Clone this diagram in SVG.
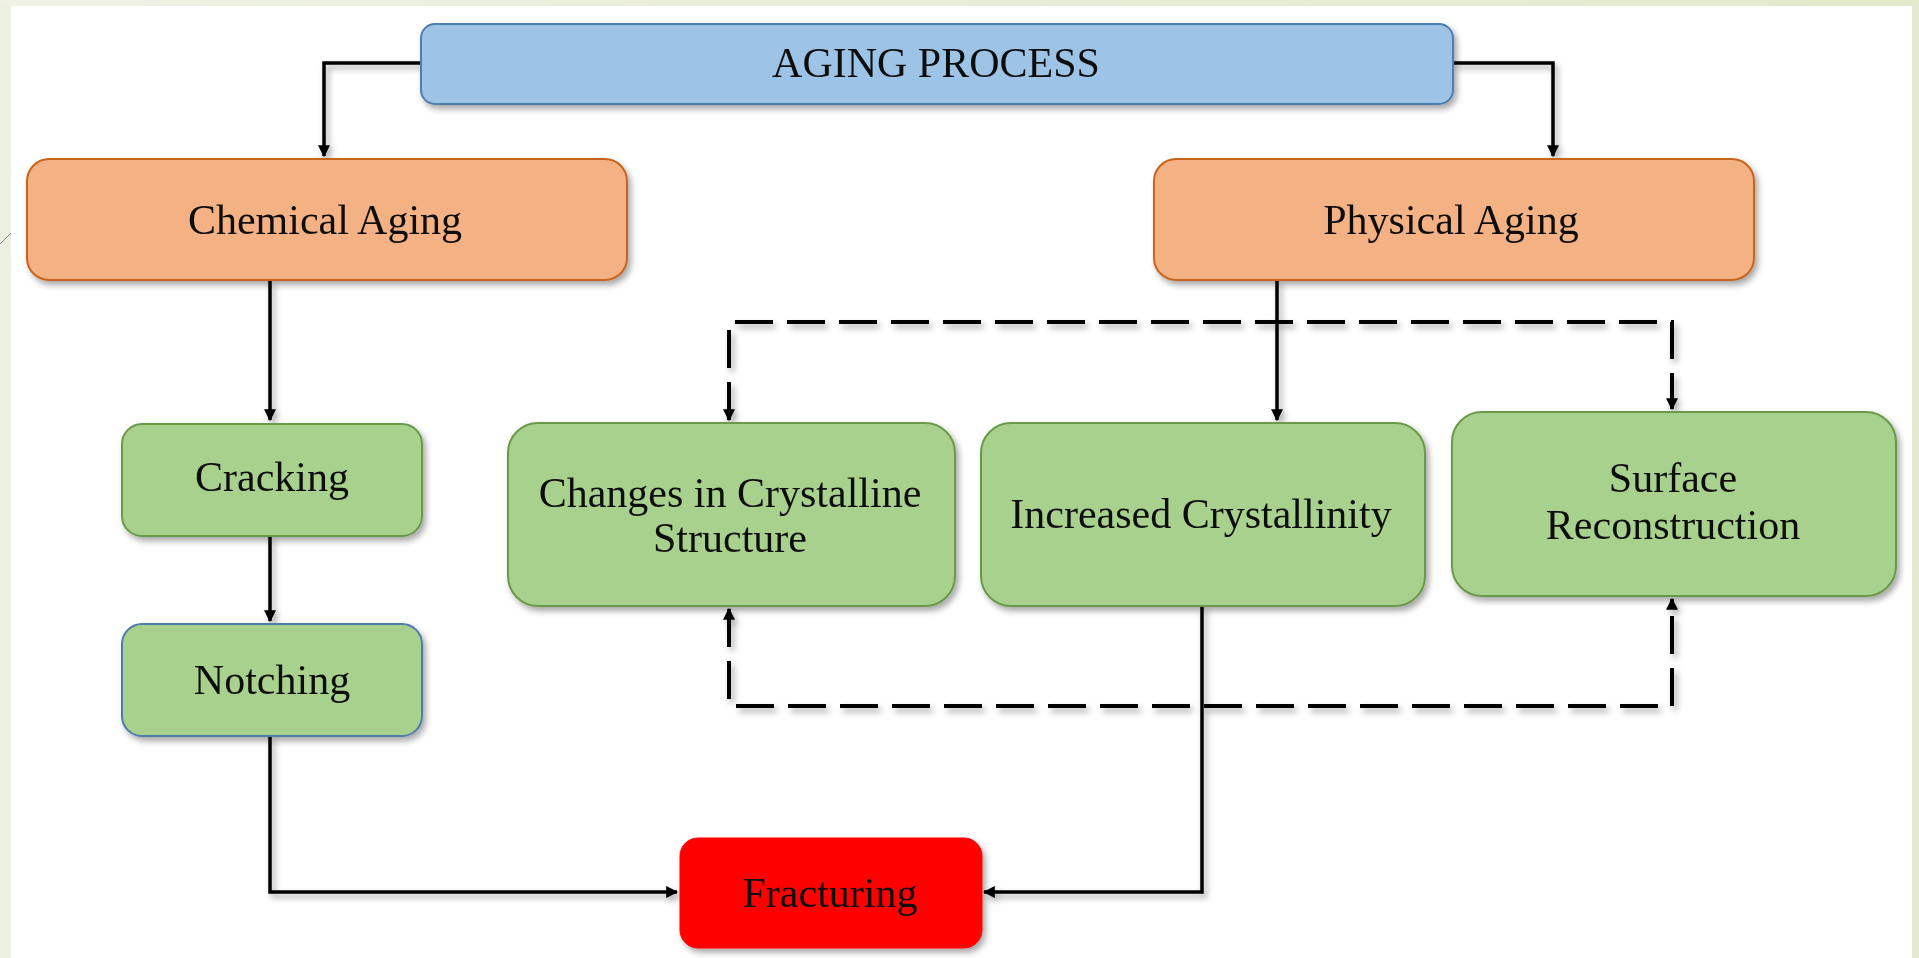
<svg xmlns="http://www.w3.org/2000/svg" width="1919" height="958" viewBox="0 0 1919 958">
<defs>
<linearGradient id="topg" x1="0" y1="0" x2="1" y2="0">
<stop offset="0" stop-color="#EEF1E4"/><stop offset="1" stop-color="#E2EACB"/>
</linearGradient>
<filter id="sh" x="-10%" y="-10%" width="125%" height="135%">
<feDropShadow dx="3" dy="4" stdDeviation="3" flood-color="#000" flood-opacity="0.35"/>
</filter>
<marker id="ah" viewBox="0 0 10 10" refX="9" refY="5" markerWidth="12" markerHeight="12" markerUnits="userSpaceOnUse" orient="auto-start-reverse">
<path d="M0,0 L10,5 L0,10 z" fill="#000"/>
</marker>
<style>
.t{font-family:"Liberation Serif","Times New Roman",serif;font-size:42px;fill:#111;text-anchor:middle}
.blue{fill:#9DC3E6;stroke:#4F7DAD;stroke-width:2}
.orange{fill:#F4B183;stroke:#C8651E;stroke-width:2}
.green{fill:#A9D18E;stroke:#6A9A4A;stroke-width:2}
.red{fill:#FF0000;stroke:#FF0000;stroke-width:1}
.c{fill:none;stroke:#000;stroke-width:3.5}
.d{fill:none;stroke:#000;stroke-width:4;stroke-dasharray:38 14}
</style>
</defs>
<rect x="0" y="0" width="1919" height="958" fill="#ECF0E2"/>
<rect x="0" y="0" width="1919" height="6" fill="url(#topg)"/>
<rect x="1912" y="0" width="7" height="958" fill="#E3EACF"/>
<rect x="11" y="6" width="1901" height="952" fill="#FFFFFF"/>
<line x1="0" y1="244" x2="11" y2="233" stroke="#888" stroke-width="1"/>

<g id="connectors" filter="url(#sh)">
<path class="c" d="M421,63 H324 V156" marker-end="url(#ah)"/>
<path class="c" d="M1453,63 H1553 V156" marker-end="url(#ah)"/>
<path class="c" d="M270,280 V420" marker-end="url(#ah)"/>
<path class="c" d="M270,536 V621" marker-end="url(#ah)"/>
<path class="c" d="M270,736 V892 H677" marker-end="url(#ah)"/>
<path class="c" d="M1277,280 V420" marker-end="url(#ah)"/>
<path class="c" d="M1202,606 V892 H984" marker-end="url(#ah)"/>
<path class="d" d="M729,420 V322 H1672 V409" marker-start="url(#ah)" marker-end="url(#ah)"/>
<path class="d" d="M729,609 V706 H1672 V599" marker-start="url(#ah)" marker-end="url(#ah)"/>
</g>

<g id="aging-process" filter="url(#sh)">
<rect class="blue" x="421" y="24" width="1032" height="80" rx="14"/>
<text class="t" x="936" y="77">AGING PROCESS</text>
</g>
<g id="chemical-aging" filter="url(#sh)">
<rect class="orange" x="27" y="159" width="600" height="121" rx="22"/>
<text class="t" x="325" y="234">Chemical Aging</text>
</g>
<g id="physical-aging" filter="url(#sh)">
<rect class="orange" x="1154" y="159" width="600" height="121" rx="22"/>
<text class="t" x="1451" y="234">Physical Aging</text>
</g>
<g id="cracking" filter="url(#sh)">
<rect class="green" x="122" y="424" width="300" height="112" rx="20"/>
<text class="t" x="272" y="491">Cracking</text>
</g>
<g id="notching" filter="url(#sh)">
<rect x="122" y="624" width="300" height="112" rx="20" fill="#A9D18E" stroke="#4F7BAA" stroke-width="2"/>
<text class="t" x="272" y="694">Notching</text>
</g>
<g id="changes-crystalline" filter="url(#sh)">
<rect class="green" x="508" y="423" width="447" height="183" rx="30"/>
<text class="t" x="730" y="507">Changes in Crystalline</text>
<text class="t" x="730" y="552">Structure</text>
</g>
<g id="increased-crystallinity" filter="url(#sh)">
<rect class="green" x="981" y="423" width="444" height="183" rx="30"/>
<text class="t" x="1201" y="528">Increased Crystallinity</text>
</g>
<g id="surface-reconstruction" filter="url(#sh)">
<rect class="green" x="1452" y="412" width="444" height="184" rx="30"/>
<text class="t" x="1673" y="492">Surface</text>
<text class="t" x="1673" y="539">Reconstruction</text>
</g>
<g id="fracturing" filter="url(#sh)">
<rect class="red" x="680" y="838" width="302" height="110" rx="18"/>
<text class="t" x="830" y="907">Fracturing</text>
</g>
</svg>
